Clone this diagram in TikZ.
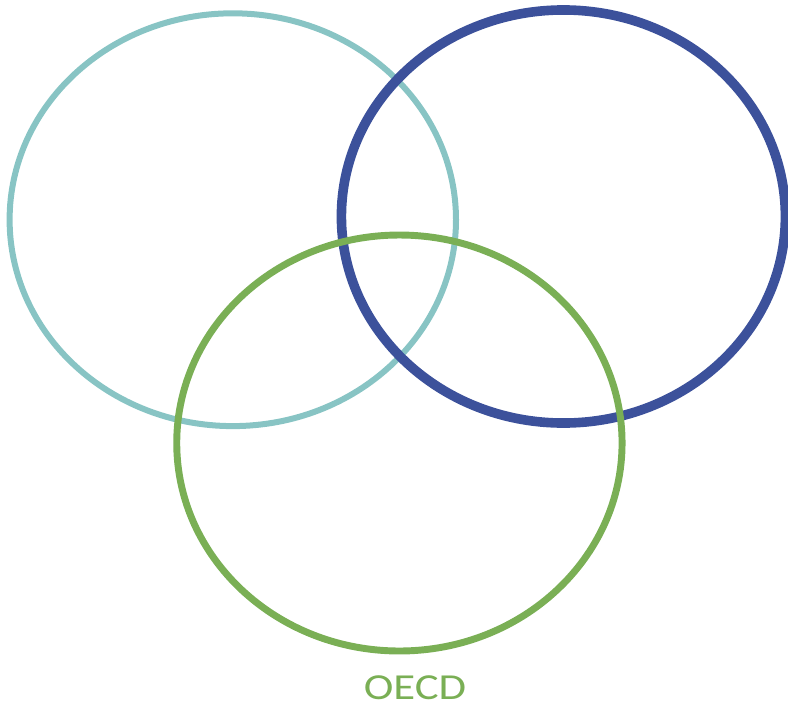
\documentclass[tikz,border=0pt]{standalone}
\usepackage{fontspec}
\setmainfont{Carlito}
\usepackage{xcolor}
\usetikzlibrary{positioning}

\definecolor{setteal}{HTML}{88C4C4}
\definecolor{setblue}{HTML}{3C519B}
\definecolor{setgreen}{HTML}{7AAF55}

\begin{document}
\begin{tikzpicture}[x=0.75pt, y=-0.75pt]
                        \useasboundingbox (0, 0) rectangle (788, 711);
                        \coordinate (left) at (232.8, 219.7);
                        \coordinate (right) at (563.4, 216.5);
                        \coordinate (oecdset) at (399.4, 443);
                        \draw[setteal, line width=4.5pt] (left) ellipse [x radius=167.4pt, y radius=154.8pt];
                        \draw[setblue, line width=7.2pt] (right) ellipse [x radius=166.5pt, y radius=154.9pt];
                        \draw[setgreen, line width=5.2pt] (oecdset) ellipse [x radius=167pt, y radius=156pt];
                        \node[text=setgreen, font=\fontsize{27.5}{30}\selectfont, inner sep=0pt, transform shape, xscale=1.22] (oecd) at (415, 687.5) {OECD};
                    \end{tikzpicture}
\end{document}
